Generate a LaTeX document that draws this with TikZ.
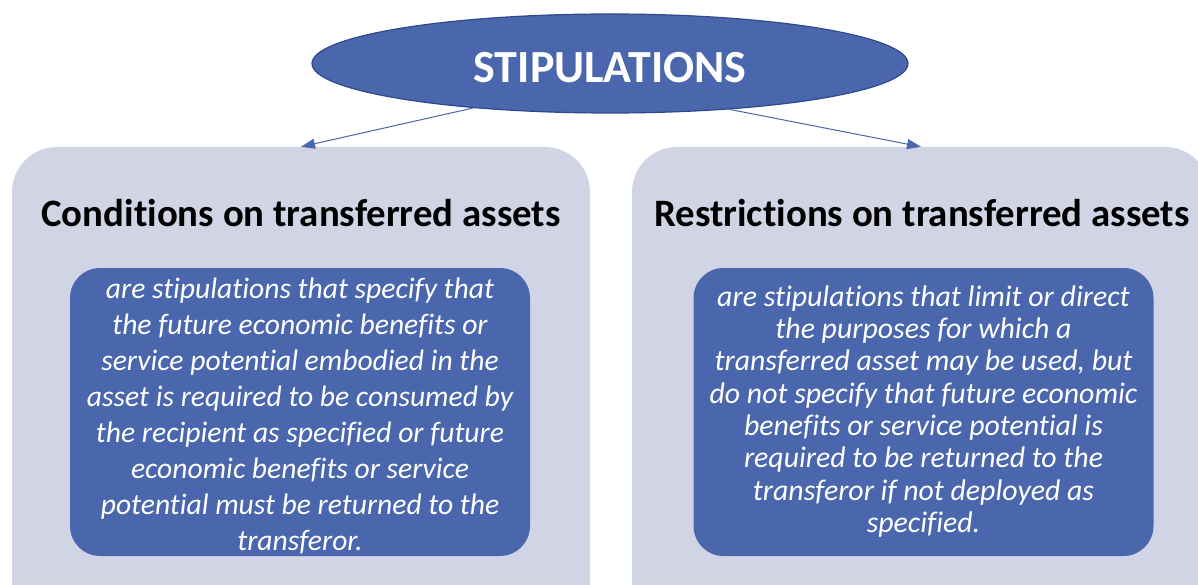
\documentclass[tikz,border=0pt]{standalone}
\usepackage{fontspec}
\setmainfont{Carlito}[Ligatures={NoCommon}]
\usetikzlibrary{shapes.geometric,arrows.meta}
\definecolor{lav}{HTML}{D0D4E5}
\definecolor{blu}{HTML}{4A66AD}
\definecolor{blud}{HTML}{2F4A88}
\tikzset{
  outerbox/.style={fill=lav, draw=none, rounded corners=45pt, minimum width=578pt, minimum height=493pt, inner sep=0pt},
  innerbox/.style={fill=blu, draw=none, rounded corners=30pt, minimum width=460pt, minimum height=288pt, inner sep=0pt},
  innertext/.style={align=center, text=white, inner sep=0pt},
  titletext/.style={font=\fontsize{38.8}{42}\selectfont\bfseries, text=black, inner sep=0pt},
  conn/.style={draw=blu, line width=1pt, -{Triangle[length=14pt,width=10pt]}}
}
\begin{document}
\begin{tikzpicture}[x=1pt,y=-1pt]
\useasboundingbox (0,0) rectangle (1198,585);
\clip (0,0) rectangle (1198,585);
\node[outerbox] (L) at (301,393.5) {};
\node[outerbox] (R) at (921,393.5) {};
\node[ellipse, fill=blu, draw=blud, line width=1.2pt, minimum width=596pt, minimum height=99pt, inner sep=0pt] (S) at (610,63.5) {};
\node[text=white, font=\fontsize{46}{48}\selectfont\bfseries, inner sep=0pt] (ST) at (610,68) {STIPULATIONS};
\node[titletext] (LT) at (301,213) {Conditions on transferred assets};
\node[titletext] (RT) at (922,213) {Restrictions on transferred assets};
\node[innerbox] (LI) at (300,412) {};
\node[innertext, font=\fontsize{29.6}{35.9}\selectfont\itshape] (LX) at (300,416) {are stipulations that specify that\\the future economic benefits or\\service potential embodied in the\\asset is required to be consumed by\\the recipient as specified or future\\economic benefits or service\\potential must be returned to the\\transferor.};
\node[innerbox] (RI) at (923.5,412) {};
\node[innertext, font=\fontsize{29.8}{32.3}\selectfont\itshape] (RX) at (923.5,411.5) {are stipulations that limit or direct\\the purposes for which a\\transferred asset may be used, but\\do not specify that future economic\\benefits or service potential is\\required to be returned to the\\transferor if not deployed as\\specified.};
\draw[conn] (S.198.8) -- (L.north);
\draw[conn] (S.-21) -- (R.north);
\end{tikzpicture}
\end{document}
